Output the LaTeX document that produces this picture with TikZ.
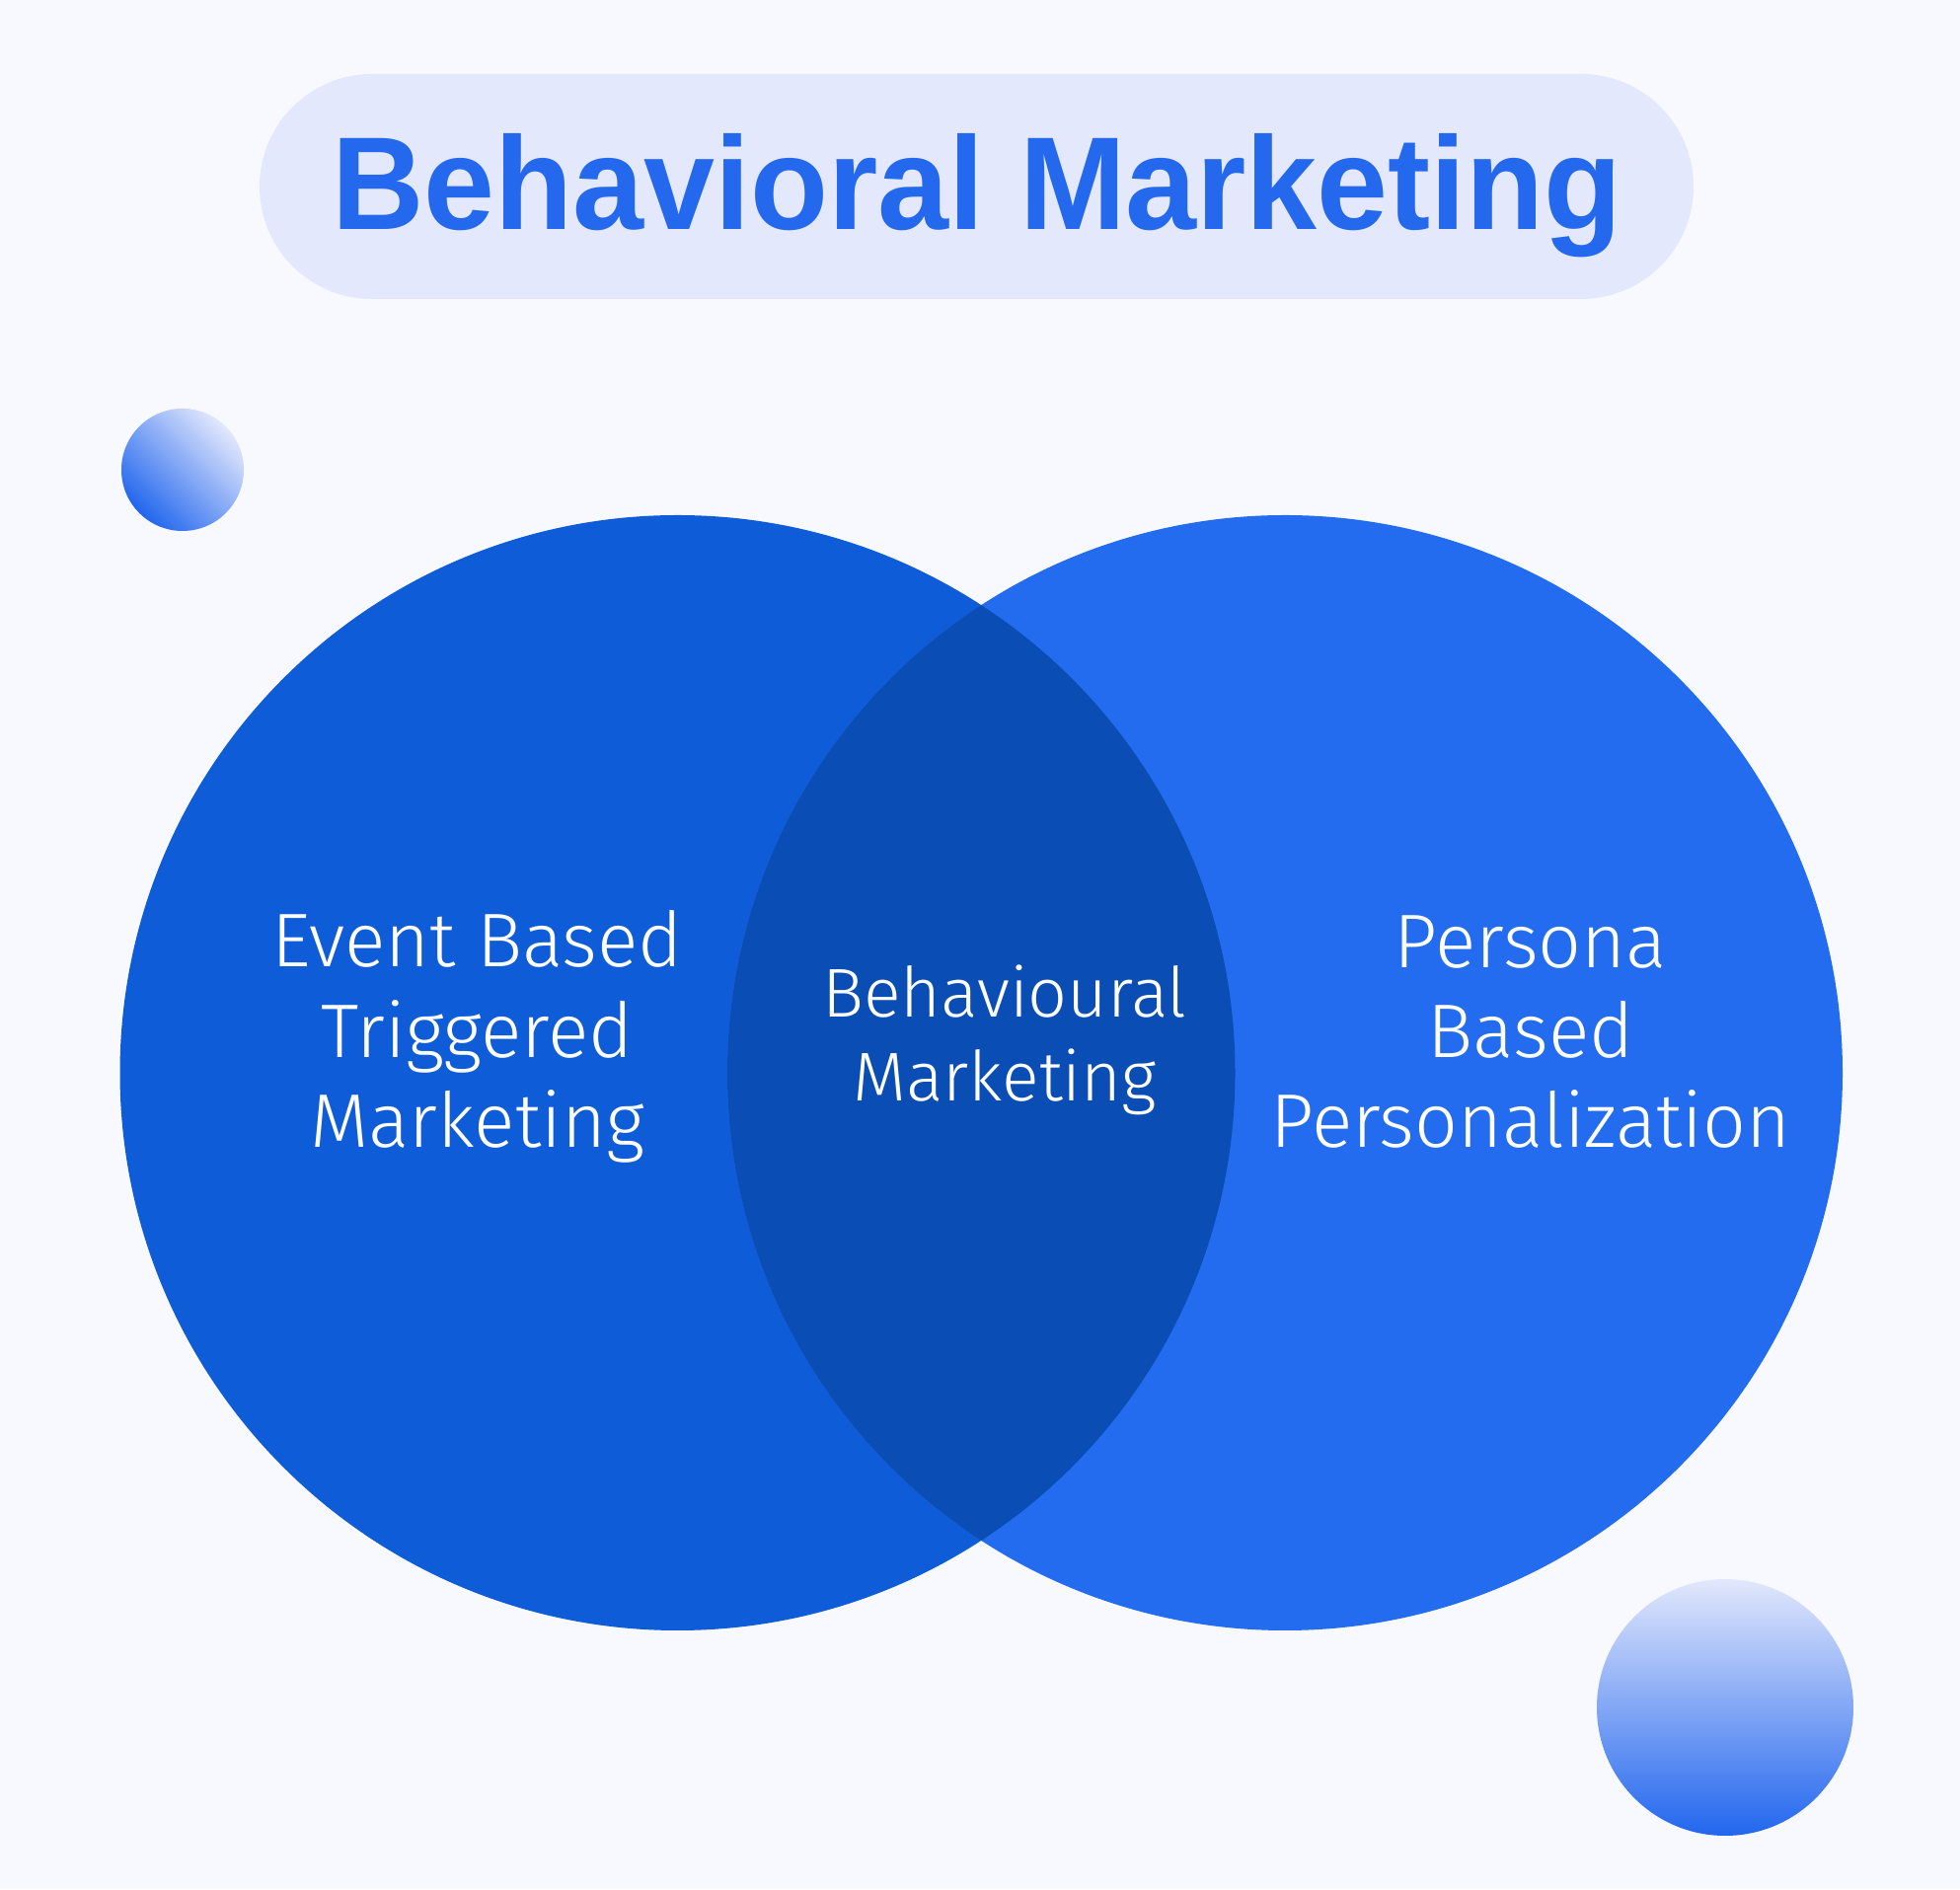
\documentclass[tikz,border=0pt]{standalone}
\usepackage{fontspec}
\IfFontExistsTF{Fira Sans Light}
  {\newfontfamily\lightf{Fira Sans Light}}
  {\newfontfamily\lightf{Fira Sans}}
\newfontfamily\titlef{Liberation Sans}[FakeStretch=0.965]
\definecolor{bgc}{HTML}{F7F9FE}
\definecolor{pillc}{HTML}{E3E8FC}
\definecolor{titlec}{HTML}{2468EE}
\definecolor{leftc}{HTML}{0F5CD8}
\definecolor{rightc}{HTML}{236CF0}
\definecolor{lensc}{HTML}{0A4DB4}
\definecolor{balllight}{HTML}{E2E8FC}
\definecolor{balldark}{HTML}{2266EE}
\tikzset{
  bodytext/.style={text=white, inner sep=0pt, anchor=base,
    font=\lightf\fontsize{77}{91}\selectfont},
  midtext/.style={text=white, inner sep=0pt, anchor=base,
    font=\lightf\fontsize{70}{85}\selectfont},
}
\begin{document}
\begin{tikzpicture}[x=1pt,y=1pt]
  \fill[bgc] (0,0) rectangle (1986,1914);
  \useasboundingbox (0,0) rectangle (1986,1914);
  % title pill
  \fill[pillc, rounded corners=114pt] (263,1611) rectangle (1716,1839);
  \node[text=titlec, inner sep=0pt, anchor=base,
        font=\titlef\bfseries\fontsize{134}{140}\selectfont] (title) at (990,1681) {Behavioral Marketing};
  % venn circles
  \fill[leftc] (686.5,827) circle[radius=565];
  \fill[rightc] (1302,827) circle[radius=565];
  \begin{scope}
    \clip (686.5,827) circle[radius=565];
    \fill[lensc] (1302,827) circle[radius=565];
  \end{scope}
  % decorative balls
  \shade[top color=balllight, bottom color=balldark, shading angle=-45]
    (185,1438) circle[radius=62];
  \shade[top color=balllight, bottom color=balldark]
    (1748,184) circle[radius=130];
  % texts
  \node[bodytext] (l1) at (483.5,934) {Event Based};
  \node[bodytext] (l2) at (483.5,842) {Triggered};
  \node[bodytext] (l3) at (483.5,751) {Marketing};
  \node[midtext] (m1) at (1018,883) {Behavioural};
  \node[midtext] (m2) at (1018,798) {Marketing};
  \node[bodytext] (r1) at (1551,933) {Persona};
  \node[bodytext] (r2) at (1551,842) {Based};
  \node[bodytext] (r3) at (1551,751) {Personalization};
\end{tikzpicture}
\end{document}
